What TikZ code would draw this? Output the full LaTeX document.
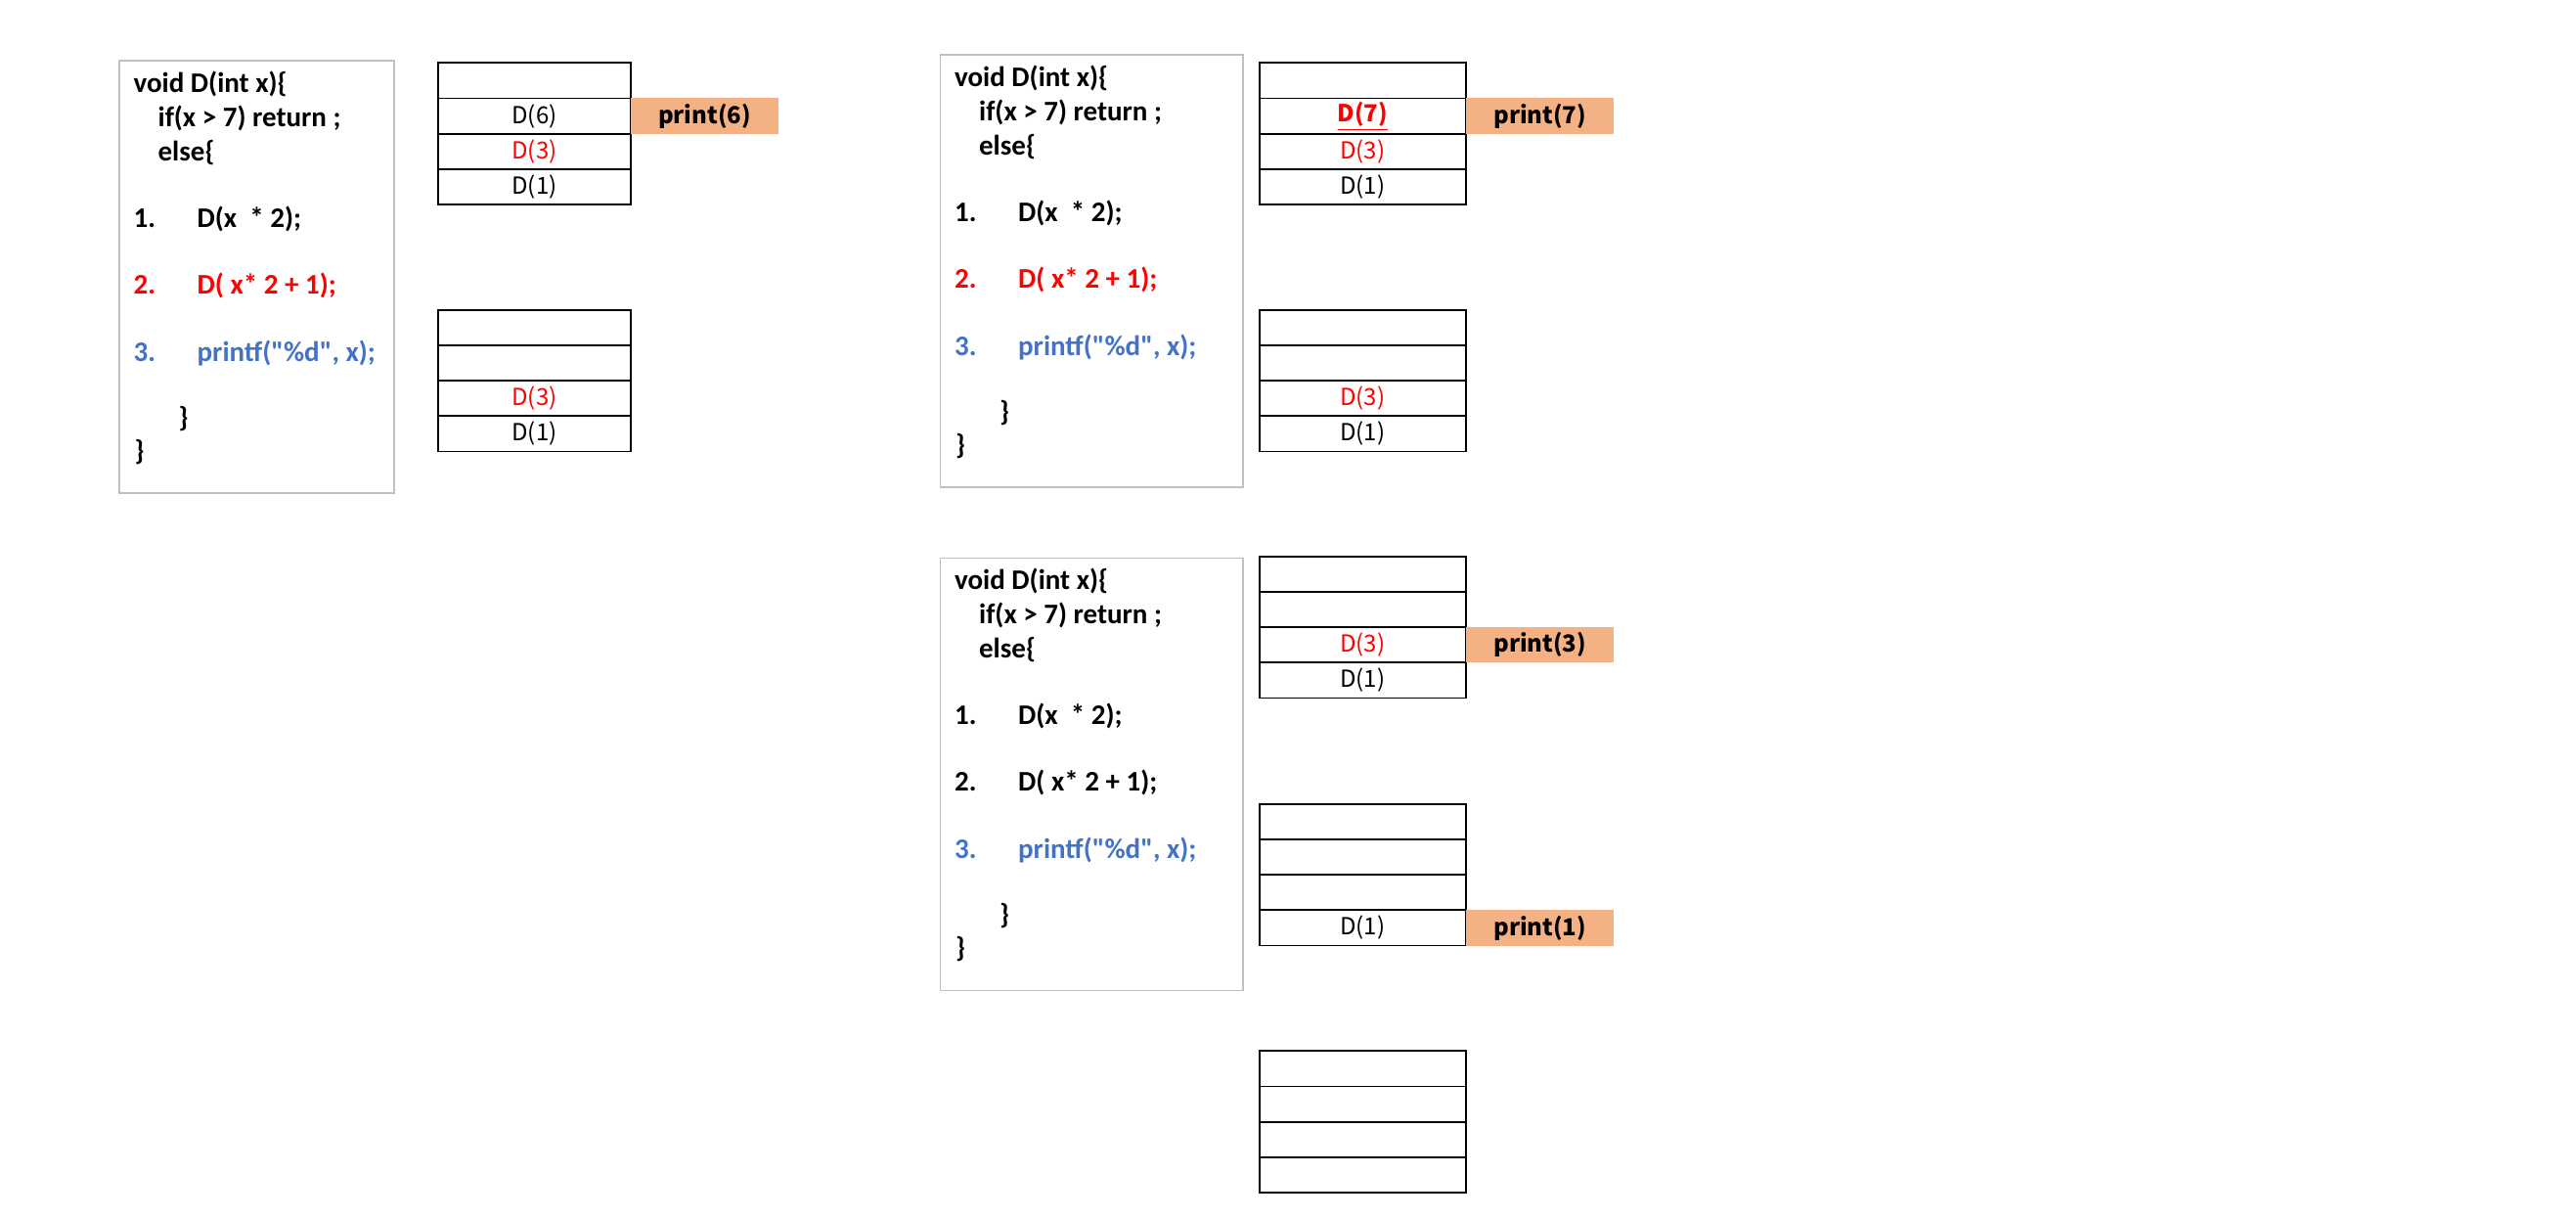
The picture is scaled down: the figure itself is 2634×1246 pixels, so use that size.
\documentclass[tikz,border=0pt]{standalone}
\usepackage{fontspec}
\setmainfont{Carlito}
\newfontfamily\codefont{Carlito}
\newfontfamily\krfont{Noto Sans CJK KR}
\usepackage{tikz}

\definecolor{codered}{HTML}{FF0000}
\definecolor{codeblue}{HTML}{4472C4}
\definecolor{printfill}{HTML}{F4B183}
\definecolor{boxgray}{HTML}{BFBFBF}

\tikzset{
  codebox/.style={draw=boxgray, line width=0.75pt, minimum width=#1, minimum height=221pt, inner sep=0pt},
  codeline/.style={anchor=base west, inner sep=0pt, font=\codefont\bfseries\fontsize{14.5}{16}\selectfont},
  cell/.style={draw=black, line width=0.85pt, outer sep=0pt, inner sep=0pt, minimum width=#1, minimum height=18.1pt, font=\krfont\fontsize{12}{14}\selectfont},
  printbox/.style={fill=printfill, inner sep=0pt, minimum width=75.5pt, minimum height=18.1pt, font=\krfont\bfseries\fontsize{12}{14}\selectfont}
}

% the code listing inside a box: #1 box name, #2 colour of line 1, #3 colour of line 2
\newcommand{\codelines}[3]{
  \node[codeline] (#1void) at ([shift={(15,33)}]#1.north west) {void D(int x)\{};
  \node[codeline] (#1if) at ([shift={(40,68)}]#1.north west) {if(x > 7) return ;};
  \node[codeline] (#1else) at ([shift={(40,103)}]#1.north west) {else\{};
  \node[codeline,#2] (#1one) at ([shift={(15,171)}]#1.north west) {\makebox[32.5pt][l]{1.}D(x\ \ * 2);};
  \node[codeline,#3] (#1two) at ([shift={(15,239)}]#1.north west) {\makebox[32.5pt][l]{2.}D( x* 2 + 1);};
  \node[codeline,codeblue] (#1three) at ([shift={(15,308)}]#1.north west) {\makebox[32.5pt][l]{3.}printf("\%d", x);};
  \node[codeline] (#1inner) at ([shift={(61,375)}]#1.north west) {\}};
  \node[codeline] (#1outer) at ([shift={(16,409)}]#1.north west) {\}};
}

\begin{document}
\begin{tikzpicture}[x=0.5pt,y=-0.5pt]
\useasboundingbox (0,0) rectangle (2634,1246);

% code boxes
\node[codebox=140.5pt] (codeA) at (262.5,283) {};
\codelines{codeA}{black}{codered}
\node[codebox=154.75pt] (codeB) at (1116.25,277) {};
\codelines{codeB}{black}{codered}
\node[codebox=154.75pt] (codeC) at (1116.25,791.5) {};
\codelines{codeC}{black}{black}

% stacks, left column
\node[cell=98.5pt] (sAa) at (546.5,82.4) {};
\node[cell=98.5pt] (sAb) at (546.5,118.6) {D(6)};
\node[cell=98.5pt,text=codered] (sAc) at (546.5,154.8) {D(3)};
\node[cell=98.5pt] (sAd) at (546.5,191.0) {D(1)};
\node[printbox] (pA) at (720.5,118.6) {print(6)};

\node[cell=98.5pt] (sBa) at (546.5,334.8) {};
\node[cell=98.5pt] (sBb) at (546.5,371.0) {};
\node[cell=98.5pt,text=codered] (sBc) at (546.5,407.2) {D(3)};
\node[cell=98.5pt] (sBd) at (546.5,443.4) {D(1)};

% stacks, right column
\node[cell=105.5pt] (sCa) at (1393.3,82.4) {};
\node[cell=105.5pt,text=codered] (sCb) at (1393.3,118.6) {\bfseries\underline{D(7)}};
\node[cell=105.5pt,text=codered] (sCc) at (1393.3,154.8) {D(3)};
\node[cell=105.5pt] (sCd) at (1393.3,191.0) {D(1)};
\node[printbox] (pC) at (1574.7,118.6) {print(7)};

\node[cell=105.5pt] (sDa) at (1393.3,334.8) {};
\node[cell=105.5pt] (sDb) at (1393.3,371.0) {};
\node[cell=105.5pt,text=codered] (sDc) at (1393.3,407.2) {D(3)};
\node[cell=105.5pt] (sDd) at (1393.3,443.4) {D(1)};

\node[cell=105.5pt] (sEa) at (1393.3,586.8) {};
\node[cell=105.5pt] (sEb) at (1393.3,623.0) {};
\node[cell=105.5pt,text=codered] (sEc) at (1393.3,659.2) {D(3)};
\node[cell=105.5pt] (sEd) at (1393.3,695.4) {D(1)};
\node[printbox] (pE) at (1574.7,659.2) {print(3)};

\node[cell=105.5pt] (sFa) at (1393.3,839.8) {};
\node[cell=105.5pt] (sFb) at (1393.3,876.0) {};
\node[cell=105.5pt] (sFc) at (1393.3,912.2) {};
\node[cell=105.5pt] (sFd) at (1393.3,948.4) {D(1)};
\node[printbox] (pF) at (1574.7,948.4) {print(1)};

\node[cell=105.5pt] (sGa) at (1393.3,1092.4) {};
\node[cell=105.5pt] (sGb) at (1393.3,1128.6) {};
\node[cell=105.5pt] (sGc) at (1393.3,1164.8) {};
\node[cell=105.5pt] (sGd) at (1393.3,1201.0) {};
\end{tikzpicture}
\end{document}
